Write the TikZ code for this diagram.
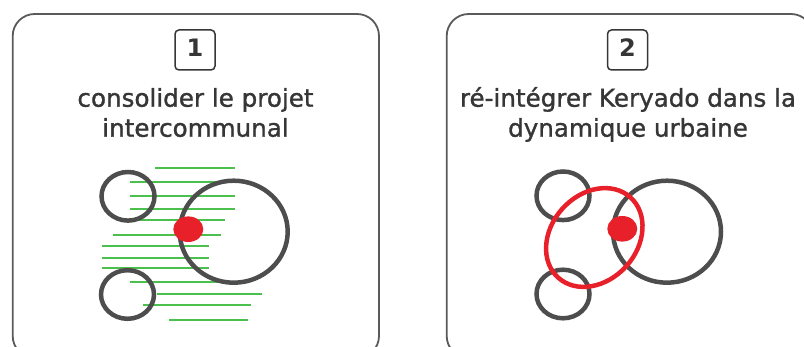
\documentclass[tikz,border=0pt]{standalone}
\usepackage{fontspec}
\setmainfont{DejaVu Sans}
\newfontfamily\titlefont[FakeBold=1.2]{DejaVu Sans}
\definecolor{panelgray}{HTML}{5A5A5A}
\definecolor{ringgray}{HTML}{4D4D4D}
\definecolor{txtgray}{HTML}{363636}
\definecolor{mygreen}{HTML}{4CC04C}
\definecolor{myred}{HTML}{E8202A}
\tikzset{
  panel/.style={draw=panelgray, line width=1.8pt, rounded corners=22pt},
  numbox/.style={draw=txtgray, line width=1.5pt, rounded corners=4pt, minimum width=40pt, minimum height=40pt, inner sep=0pt},
  numtxt/.style={text=txtgray, font=\fontsize{24}{28}\selectfont\bfseries, inner sep=0pt, anchor=base},
  title/.style={text=txtgray, font=\titlefont\fontsize{24.6}{30}\selectfont, inner sep=0pt, anchor=base},
  ring/.style={draw=ringgray, line width=4.5pt},
  greenline/.style={draw=mygreen, line width=2pt},
  reddot/.style={fill=myred},
  redring/.style={draw=myred, line width=4.5pt},
}
\begin{document}
\begin{tikzpicture}[x=1pt,y=-1pt]
\useasboundingbox (0,0) rectangle (804,347);
\clip (0,0) rectangle (804,347);
% ---------- panel 1 ----------
\draw[panel] (12.7,14) rectangle (379,358);
\node[numbox] (n1) at (195,50) {};
\node[numtxt] (d1) at (195,56.7) {1};
\node[title] (t1a) at (195.5,106.7) {consolider le projet};
\node[title] (t1b) at (195.5,136.7) {intercommunal};
% green hatching
\foreach \y/\xa/\xb in {168.3/155/235, 181.7/130/235, 196/130/235, 209.3/130/235,
  220/130/225, 235/113.3/220.7, 245.7/101.7/209.3, 258.3/101.7/209.3,
  268.3/101.7/209.3, 281.7/130/220, 294/156.7/261.7, 305/143.3/250.7, 320/169/248.3}
  {\draw[greenline] (\xa,\y) -- (\xb,\y);}
\draw[ring] (128,196.3) ellipse [x radius=26.5, y radius=24.3];
\draw[ring] (127.5,294.5) ellipse [x radius=26.5, y radius=24.3];
\draw[ring] (233.7,231.7) ellipse [x radius=54, y radius=51];
\fill[reddot] (188.3,229.2) ellipse [x radius=15, y radius=12.8];
% ---------- panel 2 ----------
\draw[panel] (446.7,14) rectangle (813,358);
\node[numbox] (n2) at (627.5,50) {};
\node[numtxt] (d2) at (627.5,56.7) {2};
\node[title] (t2a) at (628,106.7) {ré-intégrer Keryado dans la};
\node[title] (t2b) at (628,136.7) {dynamique urbaine};
\draw[ring] (563,195.8) ellipse [x radius=26.5, y radius=24.3];
\draw[ring] (563,294) ellipse [x radius=26.5, y radius=24.3];
\draw[ring] (667,231.7) ellipse [x radius=54, y radius=51];
\draw[redring, rotate around={48:(594.3,237.5)}] (594.3,237.5) ellipse [x radius=54, y radius=43];
\fill[reddot] (622.3,228.8) ellipse [x radius=15, y radius=12.8];
\end{tikzpicture}
\end{document}
